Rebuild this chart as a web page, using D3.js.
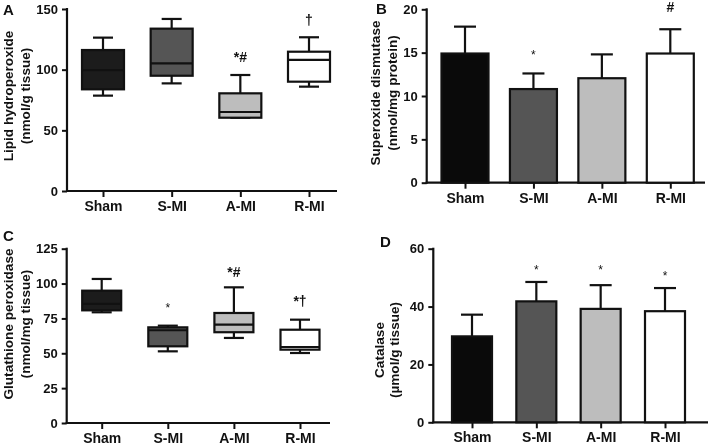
<!DOCTYPE html>
<html><head><meta charset="utf-8">
<script src="https://cdn.jsdelivr.net/npm/d3@7"></script>
<style>
body{margin:0;background:#fff}
svg{display:block;will-change:transform}
text{font-family:"Liberation Sans",Arial,sans-serif;font-weight:bold;fill:#111}
</style></head>
<body>
<script>
const categories = ["Sham","S-MI","A-MI","R-MI"];
const fills = ["#1c1c1c","#555555","#bdbdbd","#ffffff"];
const barFills = ["#0a0a0a","#555555","#bdbdbd","#ffffff"];

// Panel A: lipid hydroperoxide box plots [min, q1, median, q3, max]
const lipidBoxes = [[78.6,83.8,99.7,116.2,126.4],[88.7,95,105.2,133.8,141.8],[60.4,60.4,65.1,80.5,95.6],[86,90.1,108,114.8,126.7]];
const lipidMarks = ["","","*#","†"];
const lipidTicks = [0,50,100,150];

// Panel B: superoxide dismutase mean + SD
const sodMean = [14.9,10.8,12.05,14.9];
const sodErr = [3.1,1.8,2.75,2.8];
const sodMarks = ["","*","","#"];
const sodTicks = [0,5,10,15,20];

// Panel C: glutathione peroxidase box plots
const gpxBoxes = [[79.4,80.8,85.4,94.9,103.3],[51.4,55,66.5,68.6,69.8],[61,65.1,70.5,78.9,97.3],[50.2,52.6,54.5,66.9,74.1]];
const gpxMarks = ["","*","*#","*†"];
const gpxTicks = [0,25,50,75,100,125];

// Panel D: catalase mean + SD
const catMean = [29.7,41.8,39.2,38.4];
const catErr = [7.5,6.7,8.2,8.0];
const catMarks = ["","*","*","*"];
const catTicks = [0,20,40,60];

const svg = d3.select("body").append("svg").attr("width",709).attr("height",446);

function panel(cfg){
  const g = svg.append("g");
  const y = d3.scaleLinear().domain(cfg.domain).range([cfg.y0, cfg.y1]);
  const x = d3.scalePoint().domain(categories).range([cfg.xFirst, cfg.xLast]);
  // y axis
  const ya = g.append("g").attr("transform",`translate(${cfg.ax},0)`)
    .call(d3.axisLeft(y).tickValues(cfg.ticks).tickSize(5).tickPadding(4).tickSizeOuter(0));
  ya.select(".domain").remove();
  ya.selectAll("line").attr("stroke","#111").attr("stroke-width",2);
  ya.selectAll("text").style("font-size","13px").attr("fill","#111");
  g.append("line").attr("x1",cfg.ax).attr("x2",cfg.ax).attr("y1",y(cfg.domain[0])+1).attr("y2",y(cfg.domain[1])-1)
    .attr("stroke","#111").attr("stroke-width",2.2);
  // x axis
  const xa = g.append("g").attr("transform",`translate(0,${cfg.y0})`)
    .call(d3.axisBottom(x).tickSize(6).tickPadding(4).tickSizeOuter(0));
  xa.select(".domain").remove();
  xa.selectAll("line").attr("stroke","#111").attr("stroke-width",2);
  xa.selectAll("text").style("font-size","14px").attr("fill","#111");
  g.append("line").attr("x1",cfg.ax-1).attr("x2",cfg.axEnd).attr("y1",cfg.y0).attr("y2",cfg.y0)
    .attr("stroke","#111").attr("stroke-width",2.2);

  const bw = cfg.bw;
  if(cfg.boxes){
    cfg.boxes.forEach((b,i)=>{
      const cx = x(categories[i]);
      const cw = 20;
      const L = (x1,y1,x2,y2)=>g.append("line").attr("x1",x1).attr("y1",y1).attr("x2",x2).attr("y2",y2).attr("stroke","#111").attr("stroke-width",2.2);
      L(cx,y(b[4]),cx,y(b[3]));
      L(cx,y(b[1]),cx,y(b[0]));
      L(cx-cw/2,y(b[4]),cx+cw/2,y(b[4]));
      L(cx-cw/2,y(b[0]),cx+cw/2,y(b[0]));
      g.append("rect").attr("x",cx-bw/2).attr("y",y(b[3])).attr("width",bw).attr("height",y(b[1])-y(b[3]))
        .attr("fill",fills[i]).attr("stroke","#111").attr("stroke-width",2.2);
      L(cx-bw/2,y(b[2]),cx+bw/2,y(b[2]));
    });
  } else {
    cfg.means.forEach((m,i)=>{
      const cx = x(categories[i]);
      const cw = 22;
      g.append("line").attr("x1",cx).attr("x2",cx).attr("y1",y(m)).attr("y2",y(m+cfg.errs[i])).attr("stroke","#111").attr("stroke-width",2.2);
      g.append("line").attr("x1",cx-cw/2).attr("x2",cx+cw/2).attr("y1",y(m+cfg.errs[i])).attr("y2",y(m+cfg.errs[i])).attr("stroke","#111").attr("stroke-width",2.2);
      g.append("rect").attr("x",cx-bw/2).attr("y",y(m)).attr("width",bw).attr("height",y(0)-y(m))
        .attr("fill",barFills[i]).attr("stroke","#111").attr("stroke-width",2.2);
    });
  }
  // significance marks
  cfg.marks.forEach((t,i)=>{
    if(!t) return;
    g.append("text").attr("x",x(categories[i])).attr("y",cfg.markY[i]).attr("text-anchor","middle")
      .style("font-size",t==="*"?"12px":"14px").style("font-weight", t==="*"?"normal":"bold").text(t);
  });
  // y label
  cfg.label.forEach((t,k)=>{
    g.append("text").attr("transform",`translate(${cfg.labelX[k]},${cfg.labelY}) rotate(-90)`)
      .attr("text-anchor","middle").style("font-size","13.6px").text(t);
  });
  g.append("text").attr("x",cfg.letter[0]).attr("y",cfg.letter[1]).style("font-size","15px").text(cfg.letterText);
}

panel({domain:[0,150],y0:191,y1:9,ax:67,axEnd:337,xFirst:103,xLast:309,ticks:lipidTicks,boxes:lipidBoxes,bw:42,
  marks:lipidMarks,markY:[0,0,62,25],label:["Lipid hydroperoxide","(nmol/g tissue)"],labelX:[13,30],labelY:96,letter:[3,15],letterText:"A"});
panel({domain:[0,20],y0:182.7,y1:9.3,ax:426.7,axEnd:705,xFirst:465,xLast:670.3,ticks:sodTicks,means:sodMean,errs:sodErr,bw:47,
  marks:sodMarks,markY:[0,59,0,12],label:["Superoxide dismutase","(nmol/mg protein)"],labelX:[380,397],labelY:93,letter:[376,14],letterText:"B"});
panel({domain:[0,125],y0:423,y1:248.7,ax:66.7,axEnd:330,xFirst:101.7,xLast:300,ticks:gpxTicks,boxes:gpxBoxes,bw:39,
  marks:gpxMarks,markY:[0,312,277,306],label:["Glutathione peroxidase","(nmol/mg tissue)"],labelX:[13,30],labelY:324,letter:[3,241],letterText:"C"});
panel({domain:[0,60],y0:422.3,y1:248.7,ax:433.3,axEnd:708,xFirst:472,xLast:665,ticks:catTicks,means:catMean,errs:catErr,bw:40,
  marks:catMarks,markY:[0,274,274,280],label:["Catalase","(µmol/g tissue)"],labelX:[384,399],labelY:350,letter:[380,247],letterText:"D"});
</script>
</body></html>
